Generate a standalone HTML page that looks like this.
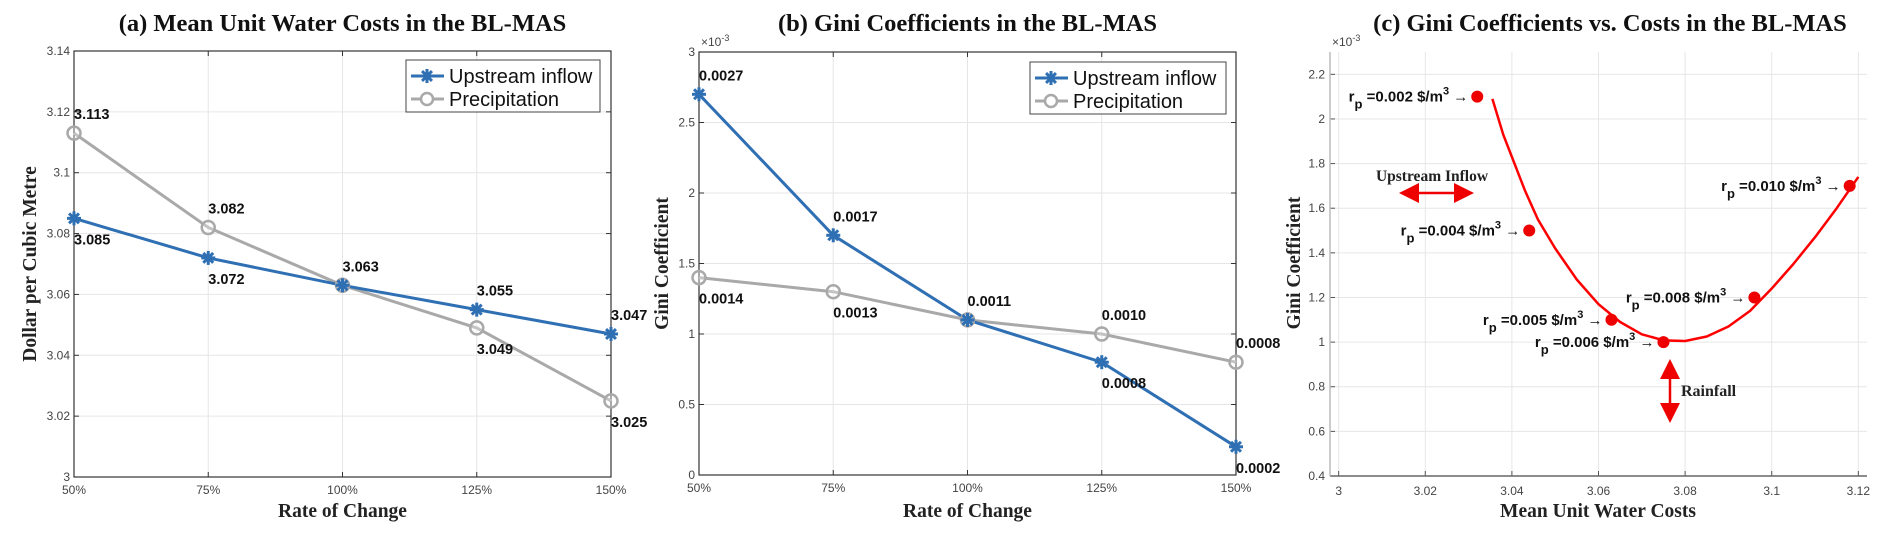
<!DOCTYPE html>
<html><head><meta charset="utf-8"><style>
body{margin:0;background:#fff;}
svg{display:block;}
.tick{font-family:"Liberation Sans",sans-serif;font-size:12px;fill:#444;}
.title{font-family:"Liberation Serif",serif;font-weight:bold;font-size:24.5px;fill:#111;}
.axt{font-family:"Liberation Serif",serif;font-weight:bold;font-size:19.5px;fill:#222;}
.dl{font-family:"Liberation Sans",sans-serif;font-weight:bold;font-size:14.5px;fill:#111;}
.leg{font-family:"Liberation Sans",sans-serif;font-size:20px;fill:#111;}
.ann{font-family:"Liberation Sans",sans-serif;font-weight:bold;font-size:15px;fill:#111;}
</style></head><body>
<svg id="fig" width="1892" height="543" viewBox="0 0 1892 543" xmlns="http://www.w3.org/2000/svg"></svg>
<script>
// ---- data ----
const rateCategories = ['50%','75%','100%','125%','150%'];
const costUpstream = [3.085,3.072,3.063,3.055,3.047];
const costPrecip = [3.113,3.082,3.063,3.049,3.025];
const costUpLabels = ['3.085','3.072','3.063','3.055','3.047'];
const costPrLabels = ['3.113','3.082','','3.049','3.025'];
const costUpAbove = [false,false,true,true,true];
const costPrAbove = [true,true,true,false,false];
const costTicks = [3,3.02,3.04,3.06,3.08,3.1,3.12,3.14];
const costTickLabels = ['3','3.02','3.04','3.06','3.08','3.1','3.12','3.14'];

const giniUpstream = [2.7,1.7,1.1,0.8,0.2];
const giniPrecip = [1.4,1.3,1.1,1.0,0.8];
const giniUpLabels = ['0.0027','0.0017','0.0011','0.0008','0.0002'];
const giniPrLabels = ['0.0014','0.0013','','0.0010','0.0008'];
const giniUpAbove = [true,true,true,false,false];
const giniPrAbove = [false,false,true,true,true];
const giniTicks = [0,0.5,1,1.5,2,2.5,3];
const giniTickLabels = ['0','0.5','1','1.5','2','2.5','3'];

const scatCost = [3.032,3.044,3.063,3.075,3.096,3.118];
const scatGini = [2.1,1.5,1.1,1.0,1.2,1.7];
const scatLabels = ['0.002','0.004','0.005','0.006','0.008','0.010'];
const curveCost = [3.0355,3.038,3.04,3.043,3.046,3.05,3.055,3.06,3.065,3.07,3.075,3.08,3.085,3.09,3.095,3.1,3.105,3.11,3.115,3.12];
const curveGini = [2.09,1.93,1.83,1.68,1.55,1.42,1.28,1.17,1.09,1.035,1.008,1.005,1.025,1.07,1.14,1.24,1.35,1.47,1.60,1.74];
const cXTicks = [3,3.02,3.04,3.06,3.08,3.1,3.12];
const cXTickLabels = ['3','3.02','3.04','3.06','3.08','3.1','3.12'];
const cYTicks = [0.4,0.6,0.8,1,1.2,1.4,1.6,1.8,2,2.2];
const cYTickLabels = ['0.4','0.6','0.8','1','1.2','1.4','1.6','1.8','2','2.2'];

const NS='http://www.w3.org/2000/svg';
const svg=document.getElementById('fig');
function mk(tag,attrs,parent,txt){const e=document.createElementNS(NS,tag);for(const k in attrs)e.setAttribute(k,attrs[k]);if(txt!==undefined)e.textContent=txt;(parent||svg).appendChild(e);return e;}
const BLUE='#2f6fb3', GRAY='#a9a9a9';

function star(g,x,y){const r=7;for(let i=0;i<4;i++){const a=i*Math.PI/4;mk('line',{x1:x-r*Math.cos(a),y1:y-r*Math.sin(a),x2:x+r*Math.cos(a),y2:y+r*Math.sin(a),stroke:BLUE,'stroke-width':3},g);}}

function linePanel(o){
  const g=mk('g',{});
  
  
  const L=o.L,R=o.R,T=o.T,B=o.B;
  const xs=i=>L+(R-L)*i/(rateCategories.length-1);
  const ys=v=>B-(v-o.ymin)/(o.ymax-o.ymin)*(B-T);
  o.ticks.forEach((t,i)=>{const y=ys(t);mk('line',{x1:L,x2:R,y1:y,y2:y,stroke:'#e6e6e6','stroke-width':1},g);
    const tl=mk('text',{x:L-4,y:y+4,'text-anchor':'end',class:'tick'},g,o.tickLabels[i]);
    
    mk('line',{x1:L,x2:L+5,y1:y,y2:y,stroke:'#333'},g);mk('line',{x1:R,x2:R-5,y1:y,y2:y,stroke:'#333'},g);});
  rateCategories.forEach((c,i)=>{const x=xs(i);mk('line',{x1:x,x2:x,y1:T,y2:B,stroke:'#e6e6e6'},g);
    mk('line',{x1:x,x2:x,y1:B,y2:B-5,stroke:'#333'},g);mk('line',{x1:x,x2:x,y1:T,y2:T+5,stroke:'#333'},g);
    const tl=mk('text',{x:x,y:B+17,'text-anchor':'middle',class:'tick'},g,c);
    });
  mk('rect',{x:L,y:T,width:R-L,height:B-T,fill:'none',stroke:'#333','stroke-width':1.2},g);
  if(o.exp){const e=mk('text',{x:L+2,y:T-6,class:'tick'},g,'×10');mk('tspan',{dy:-5,'font-size':9},e,'-3');}
  const pts=(arr)=>arr.map((v,i)=>xs(i)+','+ys(v)).join(' ');
  const pl=mk('polyline',{points:pts(o.pr),fill:'none',stroke:GRAY,'stroke-width':3},g);
  
  const ul=mk('polyline',{points:pts(o.up),fill:'none',stroke:BLUE,'stroke-width':3},g);
  
  o.pr.forEach((v,i)=>{const c=mk('circle',{cx:xs(i),cy:ys(v),r:6.5,fill:'#fff','fill-opacity':0.3,stroke:GRAY,'stroke-width':2.5},g);
    });
  o.up.forEach((v,i)=>star(g,xs(i),ys(v)));
  const lab=(arr,labels,above)=>arr.forEach((v,i)=>{if(!labels[i])return;const x=xs(i),y=ys(v);
    const t=mk('text',{x:x,y:above[i]?y-14:y+26,class:'dl'},g,labels[i]);
    });
  lab(o.up,o.upL,o.upA);lab(o.pr,o.prL,o.prA);
  const lg=mk('g',{},g);
  mk('rect',{x:o.lx,y:o.ly,width:o.lw,height:52,fill:'#fff',stroke:'#444'},lg);
  mk('line',{x1:o.lx+5,x2:o.lx+38,y1:o.ly+16,y2:o.ly+16,stroke:BLUE,'stroke-width':3},lg);star(lg,o.lx+21,o.ly+16);
  mk('text',{x:o.lx+43,y:o.ly+23,class:'leg'},lg,'Upstream inflow');
  mk('line',{x1:o.lx+5,x2:o.lx+38,y1:o.ly+39,y2:o.ly+39,stroke:GRAY,'stroke-width':3},lg);
  mk('circle',{cx:o.lx+21,cy:o.ly+39,r:6,fill:'#fff',stroke:GRAY,'stroke-width':2.5},lg);
  mk('text',{x:o.lx+43,y:o.ly+46,class:'leg'},lg,'Precipitation');
  const tt=mk('text',{x:(L+R)/2,y:31,'text-anchor':'middle',class:'title'},g,o.title);
  
  const xt=mk('text',{x:(L+R)/2,y:517,'text-anchor':'middle',class:'axt'},g,'Rate of Change');
  
  const yt=mk('text',{x:0,y:0,'text-anchor':'middle',class:'axt',transform:`translate(${o.ytx},${(T+B)/2}) rotate(-90)`},g,o.ytitle);
  
}

linePanel({name:'panel-a-cost-chart',L:74,R:611,T:51,B:477,ymin:3,ymax:3.14,ticks:costTicks,tickLabels:costTickLabels,
  up:costUpstream,pr:costPrecip,upL:costUpLabels,prL:costPrLabels,upA:costUpAbove,prA:costPrAbove,
  lx:406,ly:60,lw:194,title:'(a) Mean Unit Water Costs in the BL-MAS',ytitle:'Dollar per Cubic Metre',ytx:36});
linePanel({name:'panel-b-gini-chart',L:699,R:1236,T:52,B:475,ymin:0,ymax:3,ticks:giniTicks,tickLabels:giniTickLabels,exp:true,
  up:giniUpstream,pr:giniPrecip,upL:giniUpLabels,prL:giniPrLabels,upA:giniUpAbove,prA:giniPrAbove,
  lx:1030,ly:62,lw:196,title:'(b) Gini Coefficients in the BL-MAS',ytitle:'Gini Coefficient',ytx:668});

(function(){
  const g=mk('g',{});
  
  
  const L=1330,R=1867,T=52,B=476, xmin=2.998,xmax=3.122,ymin=0.4,ymax=2.3;
  const xs=v=>L+(v-xmin)/(xmax-xmin)*(R-L);
  const ys=v=>B-(v-ymin)/(ymax-ymin)*(B-T);
  cYTicks.forEach((t,i)=>{const y=ys(t);mk('line',{x1:L,x2:R,y1:y,y2:y,stroke:'#e6e6e6'},g);mk('line',{x1:L,x2:L+5,y1:y,y2:y,stroke:'#555'},g);
    const tl=mk('text',{x:L-5,y:y+4,'text-anchor':'end',class:'tick'},g,cYTickLabels[i]);
    });
  cXTicks.forEach((t,i)=>{const x=xs(t);mk('line',{x1:x,x2:x,y1:T,y2:B,stroke:'#e6e6e6'},g);mk('line',{x1:x,x2:x,y1:B,y2:B-5,stroke:'#555'},g);
    const tl=mk('text',{x:x,y:B+19,'text-anchor':'middle',class:'tick'},g,cXTickLabels[i]);
    });
  mk('line',{x1:L,x2:R,y1:B,y2:B,stroke:'#666','stroke-width':1.5},g);
  mk('line',{x1:L,x2:L,y1:T,y2:B,stroke:'#bbb','stroke-width':1.5},g);
  const e=mk('text',{x:L+2,y:T-6,class:'tick'},g,'×10');mk('tspan',{dy:-5,'font-size':9},e,'-3');
  const tt=mk('text',{x:1610,y:31,'text-anchor':'middle',class:'title'},g,'(c) Gini Coefficients vs. Costs in the BL-MAS');
  
  const xt=mk('text',{x:1598,y:517,'text-anchor':'middle',class:'axt'},g,'Mean Unit Water Costs');
  
  const yt=mk('text',{x:0,y:0,'text-anchor':'middle',class:'axt',transform:`translate(1300,263) rotate(-90)`},g,'Gini Coefficient');
  
  const cp=mk('polyline',{points:curveCost.map((v,i)=>xs(v)+','+ys(curveGini[i])).join(' '),fill:'none',stroke:'#f00','stroke-width':2.5,'stroke-linejoin':'round'},g);
  
  scatCost.forEach((v,i)=>{const x=xs(v),y=ys(scatGini[i]);
    const c=mk('circle',{cx:x,cy:y,r:6,fill:'#e00'},g);
    
    const t=mk('text',{x:x-9,y:y+5,'text-anchor':'end',class:'ann'},g);
    
    mk('tspan',{},t,'r');mk('tspan',{dy:7,'font-size':13},t,'p');mk('tspan',{dy:-7},t,' =' + scatLabels[i]+' $/m');
    mk('tspan',{dy:-7,'font-size':11},t,'3');mk('tspan',{dy:7,'font-weight':'normal'},t,' →');});
  mk('defs',{},g).innerHTML='<marker id="ah" markerWidth="8" markerHeight="8" refX="6" refY="4" orient="auto-start-reverse"><path d="M0,0 L8,4 L0,8 z" fill="#e00"/></marker>';
  const ua=mk('line',{x1:1404,x2:1469,y1:193,y2:193,stroke:'#e00','stroke-width':2.5,'marker-start':'url(#ah)','marker-end':'url(#ah)'},g);
  
  const ut=mk('text',{x:1432,y:181,'text-anchor':'middle',class:'axt',fill:'#333'},g,'Upstream Inflow');
  ut.setAttribute('font-size','15.5');ut.setAttribute('style','font-size:15.5px');
  const ra=mk('line',{x1:1670,x2:1670,y1:364,y2:418,stroke:'#e00','stroke-width':2.5,'marker-start':'url(#ah)','marker-end':'url(#ah)'},g);
  
  const rt=mk('text',{x:1681,y:396,class:'axt'},g,'Rainfall');
  rt.setAttribute('style','font-size:16px');
})();
</script>
</body></html>
